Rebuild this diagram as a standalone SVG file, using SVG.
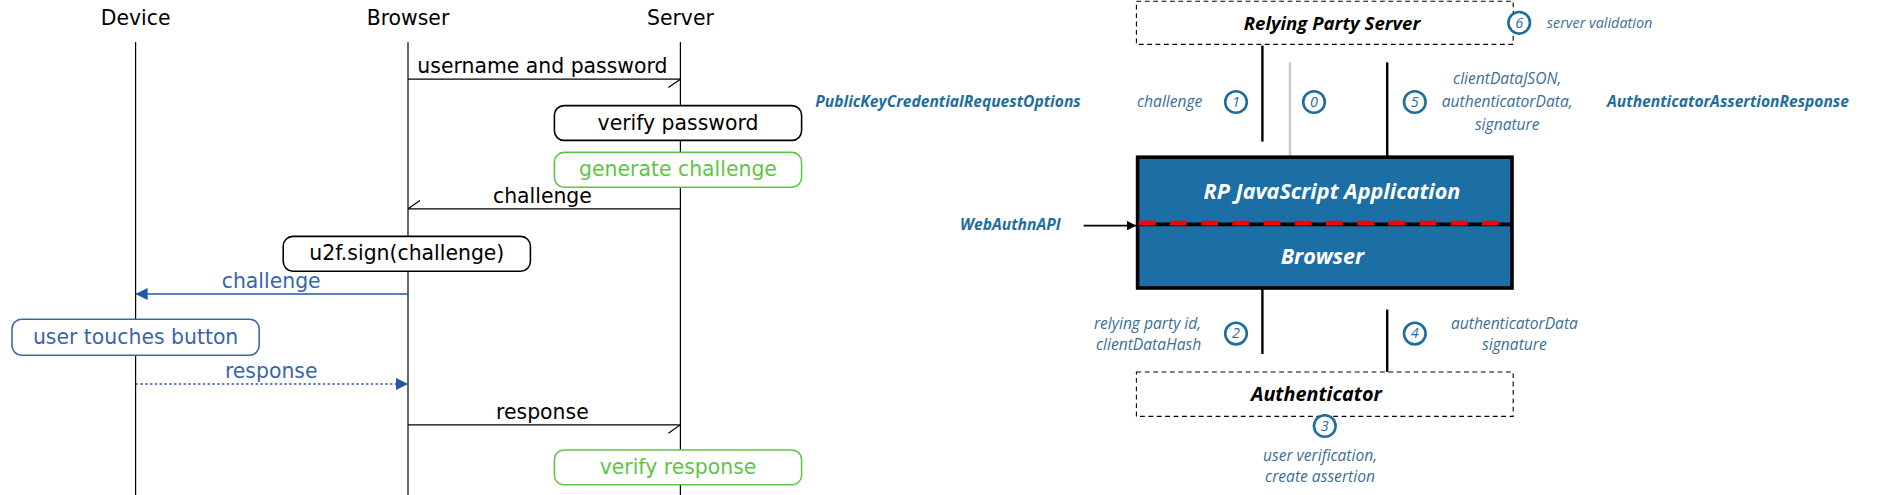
<svg xmlns="http://www.w3.org/2000/svg" width="1882" height="495" viewBox="0 0 1882 495">
<style>
.sq{font-family:"DejaVu Sans",sans-serif;font-size:17px;text-anchor:middle}
.ll{stroke:#000;stroke-width:1}
.box{fill:#fff;stroke-width:1.3}
.r{font-family:"Open Sans",sans-serif;font-style:italic;font-size:13px;fill:#3d6e96;text-anchor:middle}
.rb{font-family:"Open Sans",sans-serif;font-style:italic;font-weight:bold;font-size:13px;fill:#1f6e9c;text-anchor:middle}
.t{font-family:"Open Sans",sans-serif;font-style:italic;font-weight:bold;font-size:16.5px;text-anchor:middle}
.c{fill:#fff;stroke:#1f6e9c;stroke-width:2.2}
.cn{font-family:"Open Sans",sans-serif;font-style:italic;font-size:12px;fill:#1f6e9c;text-anchor:middle}
.dash{fill:#fff;stroke:#000;stroke-width:0.9;stroke-dasharray:4 3}
</style>
<defs>
<marker id="fb" markerWidth="10" markerHeight="10" refX="10" refY="5" orient="auto" markerUnits="userSpaceOnUse"><path d="M0,0L10,5L0,10z" fill="#2456a4"/></marker>
<marker id="ha" markerWidth="10" markerHeight="8" refX="10" refY="0" orient="auto" markerUnits="userSpaceOnUse"><path d="M0,7L10,0" stroke="#000" fill="none"/></marker>
<marker id="ka" markerWidth="8" markerHeight="8" refX="8" refY="4" orient="auto" markerUnits="userSpaceOnUse"><path d="M0,0L8,4L0,8z" fill="#000"/></marker>
</defs>
<g transform="scale(1.2)">
<g id="headers">
<text class="sq" x="113" y="21">Device</text>
<text class="sq" x="340" y="21">Browser</text>
<text class="sq" x="567" y="21">Server</text>
</g>
<g id="lifelines">
<line class="ll" x1="113" y1="35" x2="113" y2="495"/>
<line class="ll" x1="340" y1="35" x2="340" y2="495"/>
<line class="ll" x1="567" y1="35" x2="567" y2="495"/>
</g>
<g id="connectors">
<line x1="340" y1="66" x2="567" y2="66" stroke="#000" marker-end="url(#ha)"/>
<text class="sq" x="452" y="61">username and password</text>
<line x1="567" y1="174" x2="340" y2="174" stroke="#000" marker-end="url(#ha)"/>
<text class="sq" x="452" y="169">challenge</text>
<line x1="340" y1="245" x2="113" y2="245" stroke="#2456a4" stroke-width="1.3" marker-end="url(#fb)"/>
<text class="sq" x="226" y="240" fill="#3a64a8">challenge</text>
<line x1="113" y1="320" x2="340" y2="320" stroke="#2456a4" stroke-width="1.3" stroke-dasharray="2 2" marker-end="url(#fb)"/>
<text class="sq" x="226" y="315" fill="#3a64a8">response</text>
<line x1="340" y1="354" x2="567" y2="354" stroke="#000" marker-end="url(#ha)"/>
<text class="sq" x="452" y="349">response</text>
<line x1="1052" y1="38" x2="1052" y2="118" stroke="#000" stroke-width="2"/>
<line x1="1075" y1="52" x2="1075" y2="130" stroke="#c8c8c8" stroke-width="2"/>
<line x1="1156" y1="52" x2="1156" y2="130" stroke="#000" stroke-width="2"/>
<line x1="1052" y1="241" x2="1052" y2="295" stroke="#000" stroke-width="2"/>
<line x1="1156" y1="258" x2="1156" y2="310" stroke="#000" stroke-width="2"/>
</g>
<g id="verify-password"><rect class="box" x="462" y="88" width="206" height="29" rx="8" stroke="#000"/><text class="sq" x="565" y="108">verify password</text></g>
<g id="generate-challenge"><rect class="box" x="462" y="127" width="206" height="29" rx="8" stroke="#5ec447"/><text class="sq" x="565" y="147" fill="#5ec447">generate challenge</text></g>
<g id="u2f-sign"><rect class="box" x="236" y="197" width="206" height="29" rx="8" stroke="#000"/><text class="sq" x="339" y="217">u2f.sign(challenge)</text></g>
<g id="user-touches"><rect class="box" x="10" y="266" width="206" height="30" rx="8" stroke="#3a64a8"/><text class="sq" x="113" y="287" fill="#3a64a8">user touches button</text></g>
<g id="verify-response"><rect class="box" x="462" y="375" width="206" height="29" rx="8" stroke="#5ec447"/><text class="sq" x="565" y="395" fill="#5ec447">verify response</text></g>

<g id="rp-server"><rect class="dash" x="947" y="1" width="314" height="36"/><text class="t" x="1110" y="25" style="font-size:15.5px">Relying Party Server</text></g>
<g id="step6"><circle class="c" cx="1266" cy="19" r="9"/><text class="cn" x="1266" y="23">6</text><text class="r" x="1289" y="23" style="text-anchor:start;font-size:12px">server validation</text></g>
<g id="step1"><circle class="c" cx="1030" cy="85" r="9"/><text class="cn" x="1030" y="89">1</text><text class="r" x="1002" y="89" style="text-anchor:end">challenge</text></g>
<g id="step0"><circle class="c" cx="1095" cy="85" r="9" stroke="#c8c8c8"/><text class="cn" x="1095" y="89" fill="#c8c8c8">0</text></g>
<g id="step5"><circle class="c" cx="1179" cy="85" r="9"/><text class="cn" x="1179" y="89">5</text>
<text class="r" x="1256" y="70">clientDataJSON,</text><text class="r" x="1256" y="89">authenticatorData,</text><text class="r" x="1256" y="108">signature</text></g>
<text class="rb" x="790" y="89">PublicKeyCredentialRequestOptions</text>
<text class="rb" x="1440" y="89">AuthenticatorAssertionResponse</text>
<g id="rp-app">
<rect x="948" y="131" width="312" height="109" fill="#1b6fa5" stroke="#000" stroke-width="3"/>
<text class="t" x="1110" y="166" fill="#fff" style="font-size:18px">RP JavaScript Application</text>
<text class="t" x="1102" y="220" fill="#fff" style="font-size:18px">Browser</text>
<line x1="1260" y1="187" x2="949" y2="187" stroke="#000" stroke-width="3"/>
<line x1="949" y1="186" x2="1260" y2="186" stroke="#f00" stroke-width="4" stroke-dasharray="14 12"/>
</g>
<g id="webauthn"><line x1="903" y1="188" x2="947" y2="188" stroke="#000" stroke-width="1.3" marker-end="url(#ka)"/><text class="rb" x="842" y="192">WebAuthnAPI</text></g>
<g id="step2"><circle class="c" cx="1030" cy="278" r="9"/><text class="cn" x="1030" y="282">2</text>
<text class="r" x="1001" y="274" style="text-anchor:end">relying party id,</text><text class="r" x="1001" y="292" style="text-anchor:end">clientDataHash</text></g>
<g id="step4"><circle class="c" cx="1179" cy="278" r="9"/><text class="cn" x="1179" y="282">4</text>
<text class="r" x="1262" y="274">authenticatorData</text><text class="r" x="1262" y="292">signature</text></g>
<g id="authenticator"><rect class="dash" x="947" y="310" width="314" height="37"/><text class="t" x="1097" y="334">Authenticator</text></g>
<g id="step3"><circle class="c" cx="1104" cy="355" r="9"/><text class="cn" x="1104" y="359">3</text>
<text class="r" x="1100" y="384">user verification,</text><text class="r" x="1100" y="402">create assertion</text></g>
</g>
</svg>
